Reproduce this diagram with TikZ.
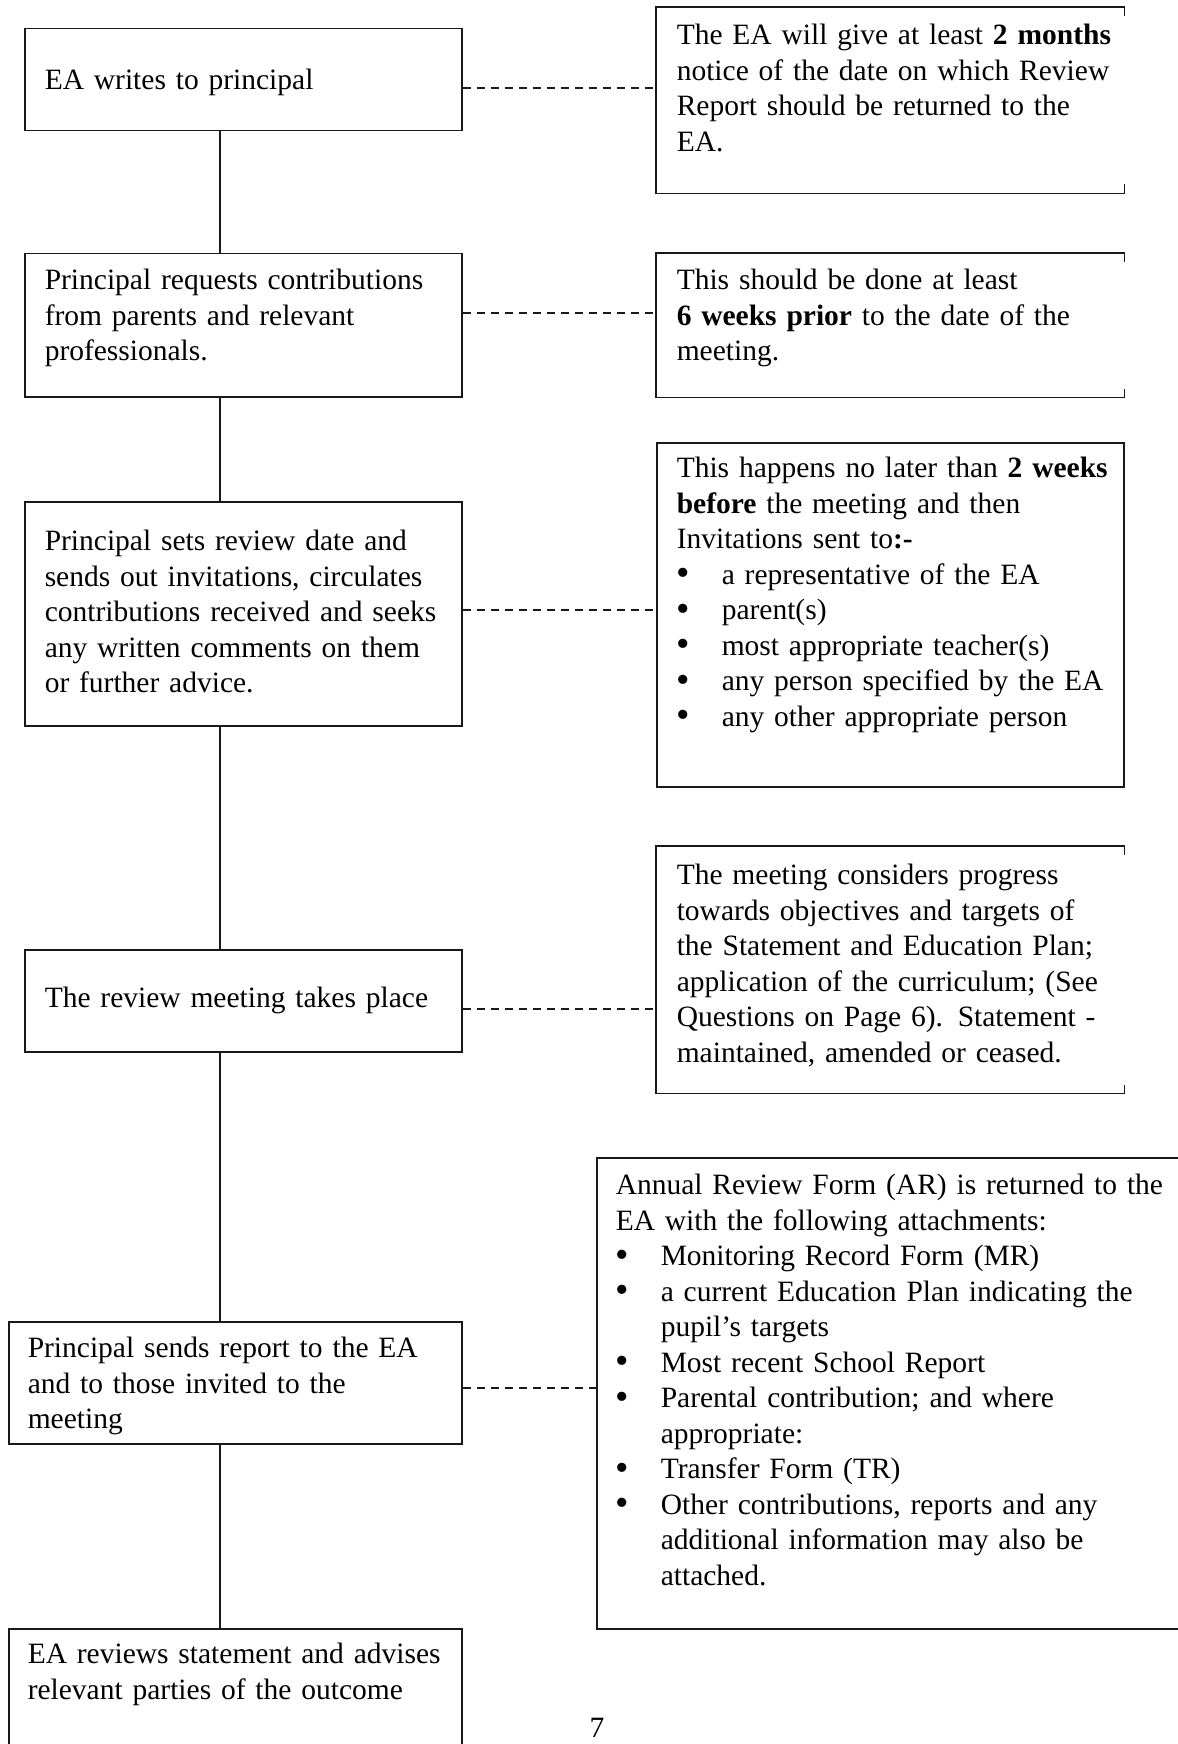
\documentclass[tikz,border=0pt]{standalone}
\usepackage{fontspec}
\usepackage{graphicx}
\setmainfont{Liberation Serif}
\definecolor{lineColor}{RGB}{25, 25, 25}
\definecolor{textColor}{RGB}{0, 0, 0}
\newcommand{\blt}[1]{\par\hangindent=18pt\hangafter=1\noindent\makebox[18pt][l]{\raisebox{-0.6pt}{\scalebox{1.3}{\textbullet}}}#1\par}
\tikzset{
    step_box/.style={
        draw=lineColor,
        line width=0.6pt,
        anchor=north west,
        align=left,
        inner ysep=0pt,
        inner xsep=0pt,
        text width=174.8pt,
        text=textColor,
        execute at begin node={\leftskip=8pt\hyphenpenalty=10000},
        font=\fontsize{11.8pt}{14.2pt}\selectfont
    },
    wide_box/.style={
        step_box,
        text width=181.2pt,
        execute at begin node={\leftskip=7.6pt\hyphenpenalty=10000}
    },
    note_box/.style={
        step_box,
        text width=186.8pt
    },
    open_box/.style={
        note_box,
        draw=none
    },
    box_edge/.style={
        draw=lineColor,
        line width=0.6pt
    },
    flow_line/.style={
        draw=lineColor,
        line width=0.5pt
    },
    note_link/.style={
        draw=lineColor,
        line width=0.5pt,
        dash pattern=on 3.2pt off 2.4pt
    }
}

\begin{document}
\begin{tikzpicture}[x=0.4pt, y=-0.4pt]
    \useasboundingbox (0,0) rectangle (1178,1744);
    \clip (0,0) rectangle (1178,1744);

    \node[step_box, text height=24.4pt, text depth=16.4pt] (write) at (24,28)
        {EA writes to principal};
    \node[step_box, text height=14.4pt, text depth=42.8pt] (request) at (24,253)
        {Principal requests contributions\\ from parents and relevant\\ professionals.};
    \node[step_box, text height=19.6pt, text depth=70pt] (invite) at (24,501)
        {Principal sets review date and\\ sends out invitations, circulates\\ contributions received and seeks\\ any written comments on them\\ or further advice.};
    \node[step_box, align=center, execute at begin node={}, text height=23.2pt, text depth=17.6pt] (meet) at (24,949)
        {The review meeting takes place};
    \node[wide_box, text height=14.4pt, text depth=34.4pt] (send) at (8,1321)
        {Principal sends report to the EA\\ and to those invited to the\\ meeting};
    \node[wide_box, text height=14pt, text depth=54.8pt] (outcome) at (8,1628)
        {EA reviews statement and advises\\ relevant parties of the outcome};

    \node[open_box, text height=14.8pt, text depth=59.2pt] (nNotice) at (656,7)
        {The EA will give at least \textbf{2 months}\\ notice of the date on which Review\\ Report should be returned to the\\ EA.};
    \node[open_box, text height=14.4pt, text depth=42.8pt] (nPrior) at (656,253)
        {This should be done at least\\ \textbf{6 weeks prior} to the date of the\\ meeting.};
    \node[note_box, text height=14pt, text depth=123.6pt] (nInvite) at (656,442)
        {This happens no later than \textbf{2 weeks}\\ \textbf{before} the meeting and then\\ Invitations sent to\textbf{:-}
        \blt{a representative of the EA}
        \blt{parent(s)}
        \blt{most appropriate teacher(s)}
        \blt{any person specified by the EA}
        \blt{any other appropriate person}};
    \node[open_box, text height=15.2pt, text depth=83.2pt] (nMeet) at (656,846)
        {The meeting considers progress\\ towards objectives and targets of\\ the Statement and Education Plan;\\ application of the curriculum; (See\\ Questions on Page 6). Statement -\\ maintained, amended or ceased.};
    \node[note_box, text width=241.6pt, execute at begin node={\leftskip=7.6pt\hyphenpenalty=10000},
          text height=14.8pt, text depth=173.6pt] (nReturn) at (596,1157)
        {Annual Review Form (AR) is returned to the\\ EA with the following attachments:
        \blt{Monitoring Record Form (MR)}
        \blt{a current Education Plan indicating the\newline pupil's targets}
        \blt{Most recent School Report}
        \blt{Parental contribution; and where\newline appropriate:}
        \blt{Transfer Form (TR)}
        \blt{Other contributions, reports and any\newline additional information may also be\newline attached.}};

    \foreach \n in {nNotice, nPrior, nMeet} {
        \draw[box_edge] ([yshift=-3.6pt]\n.north east) -- (\n.north east) -- (\n.north west)
            -- (\n.south west) -- (\n.south east) -- ([yshift=3.6pt]\n.south east);
    }

    \coordinate (spine) at (220,0);
    \draw[flow_line] (write.south -| spine) -- (request.north -| spine);
    \draw[flow_line] (request.south -| spine) -- (invite.north -| spine);
    \draw[flow_line] (invite.south -| spine) -- (meet.north -| spine);
    \draw[flow_line] (meet.south -| spine) -- (send.north -| spine);
    \draw[flow_line] (send.south -| spine) -- (outcome.north -| spine);

    \draw[note_link] (write.east |- 0,88) -- (nNotice.west |- 0,88);
    \draw[note_link] (request.east |- 0,313) -- (nPrior.west |- 0,313);
    \draw[note_link] (invite.east |- 0,610) -- (nInvite.west |- 0,610);
    \draw[note_link] (meet.east |- 0,1009) -- (nMeet.west |- 0,1009);
    \draw[note_link] (send.east |- 0,1388) -- (nReturn.west |- 0,1388);

    \node[font=\fontsize{11.8pt}{14pt}\selectfont, anchor=base, inner sep=0pt] (pageNum) at (597,1737) {7};
\end{tikzpicture}
\end{document}
